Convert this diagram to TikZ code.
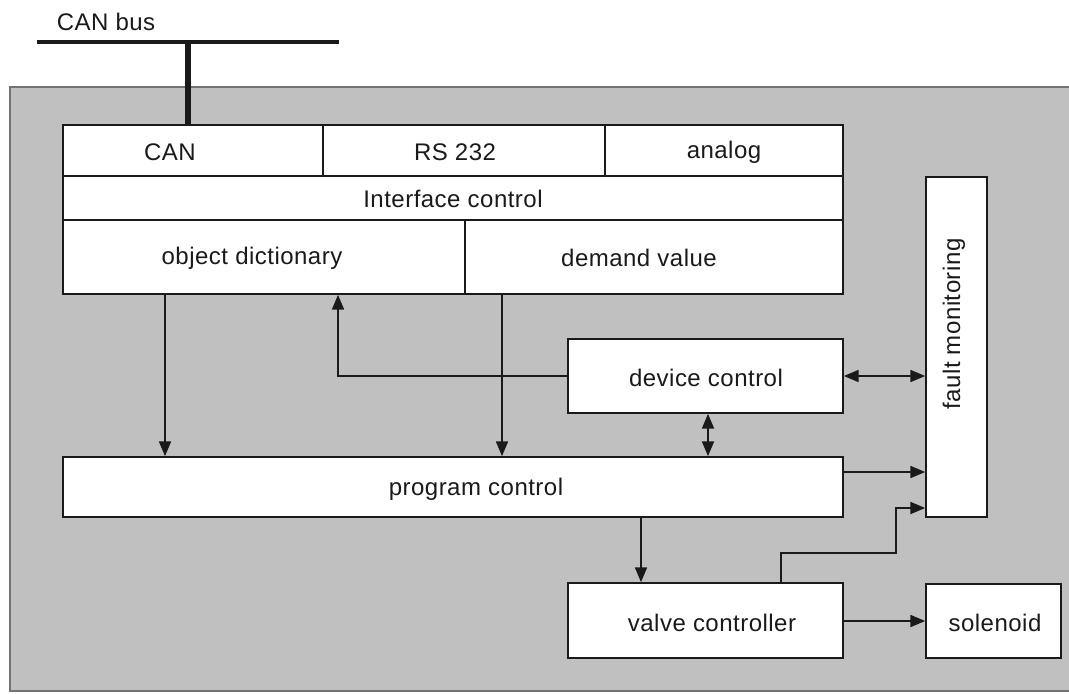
\documentclass[tikz,border=0pt]{standalone}
\usepackage{fontspec}
\setmainfont{Liberation Sans}[LetterSpace=2]
\usetikzlibrary{fit,arrows.meta}
\definecolor{bg}{HTML}{C0C0C0}
\definecolor{ink}{HTML}{1A1A1A}
\tikzset{
  box/.style={draw=ink, fill=white, line width=1.3pt, inner sep=0pt},
  txt/.style={text=ink, font=\fontsize{18}{21}\selectfont, inner sep=0pt},
  conn/.style={draw=ink, line width=1.2pt, -{Triangle[length=11pt,width=9pt]}},
  biconn/.style={draw=ink, line width=1.2pt, {Triangle[length=11pt,width=9pt]}-{Triangle[length=11pt,width=9pt]}},
  plain/.style={draw=ink, line width=1.2pt}
}
\begin{document}
\begin{tikzpicture}[x=0.75pt,y=-0.75pt]
\useasboundingbox (0,0) rectangle (1069,693);
% background panel
\fill[bg] (10,87) rectangle (1075,691);
\draw[draw=black!55, line width=1pt] (1075,87) -- (10,87) -- (10,691) -- (1075,691);
% CAN bus
\node[txt, anchor=center] (canbus) at (106,22) {CAN bus};
\coordinate (busL) at (37,42);
\coordinate (busR) at (339,42);
\coordinate (busT) at (188,42);
\draw[ink, line width=2.4pt] (busL) -- (busR);
% boxes
\node[box, fit={(63,125) (323,176)}] (can) {};
\node[box, fit={(323,125) (605,176)}] (rs) {};
\node[box, fit={(605,125) (843,176)}] (analog) {};
\node[box, fit={(63,176) (843,220)}] (iface) {};
\node[box, fit={(63,220) (465,294)}] (objdict) {};
\node[box, fit={(465,220) (843,294)}] (demand) {};
\node[box, fit={(926,177) (987,517)}] (fault) {};
\node[box, fit={(568,339) (843,413)}] (device) {};
\node[box, fit={(63,457) (843,517)}] (program) {};
\node[box, fit={(568,583) (843,658)}] (valve) {};
\node[box, fit={(926,584) (1061,658)}] (solenoid) {};
% thicker dividers in the interface block
\draw[ink, line width=2pt] (63,176) -- (843,176);
\draw[ink, line width=2pt] (63,220) -- (843,220);
\draw[ink, line width=2pt] (323,125) -- (323,176);
\draw[ink, line width=2pt] (605,125) -- (605,176);
\draw[ink, line width=4pt] (busT) -- (can.north -| busT);
% texts
\node[txt] (tcan) at (170,152) {CAN};
\node[txt] (trs) at (455,152) {RS 232};
\node[txt] (tan) at (724,152) {analog};
\node[txt] (tif) at (453,199) {Interface control};
\node[txt] (tod) at (252,258) {object dictionary};
\node[txt] (tdv) at (639,258) {demand value};
\node[txt] (tdc) at (706,378) {device control};
\node[txt] (tpc) at (476,489) {program control};
\node[txt] (tvc) at (712,623) {valve controller};
\node[txt] (tso) at (995,623) {solenoid};
\node[txt, rotate=90] (tfm) at (954,324) {fault monitoring};
% connectors
\draw[conn] (objdict.south -| 165,0) -- (program.north -| 165,0);
\draw[conn] (demand.south -| 502,0) -- (program.north -| 502,0);
\draw[conn] (device.west |- 0,376) -| (objdict.south -| 338,0);
\draw[biconn] (device.east |- 0,376) -- (fault.west |- 0,376);
\draw[biconn] (device.south -| 708,0) -- (program.north -| 708,0);
\draw[conn] (program.east |- 0,472) -- (fault.west |- 0,472);
\draw[conn] (program.south -| 641,0) -- (valve.north -| 641,0);
\draw[conn] (valve.north -| 781,0) -- (781,553) -- (896,553) -- (896,508) -- (fault.west |- 0,508);
\draw[conn] (valve.east |- 0,621) -- (solenoid.west |- 0,621);
\end{tikzpicture}
\end{document}
